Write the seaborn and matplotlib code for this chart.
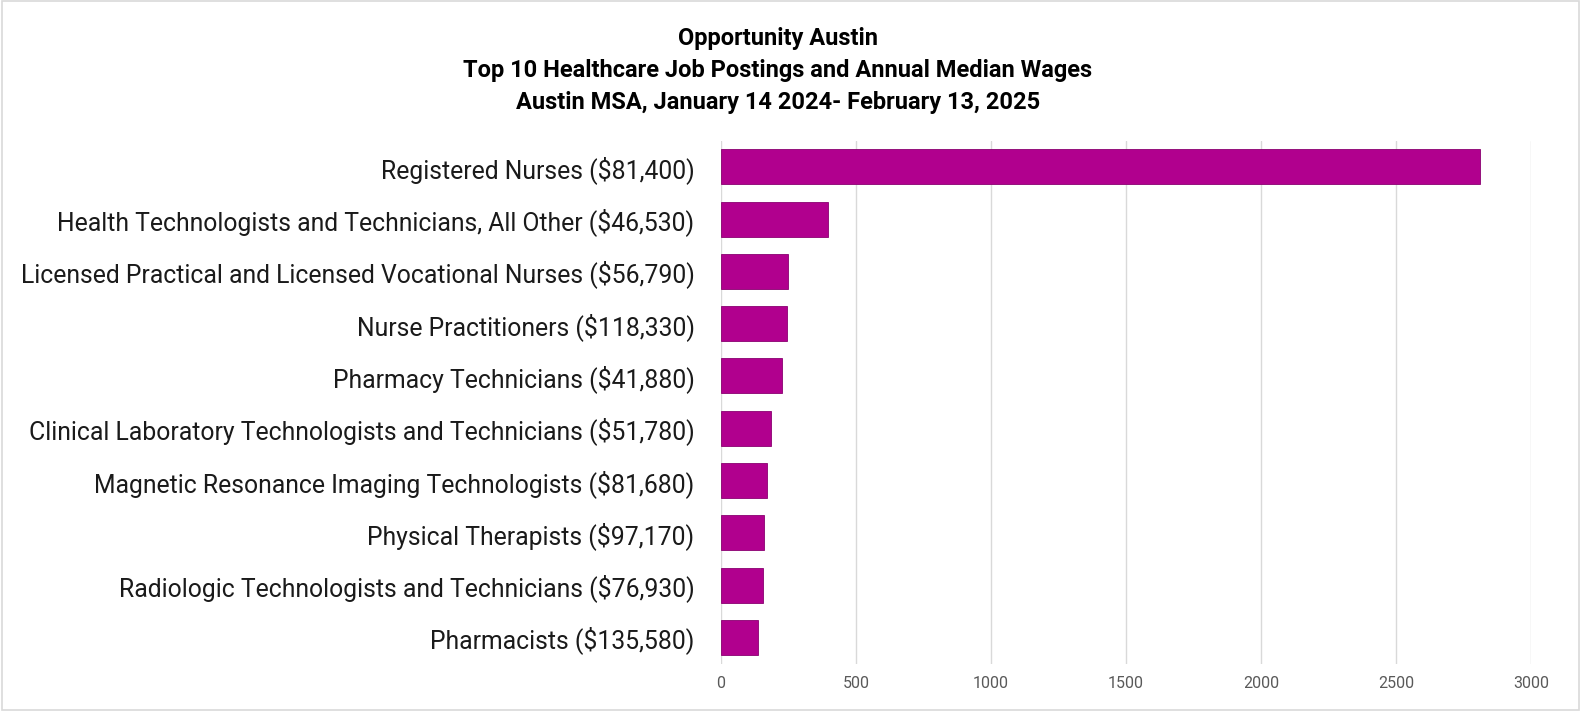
import matplotlib
matplotlib.use("Agg")
import matplotlib.pyplot as plt
import seaborn as sns
import pandas as pd
from matplotlib.patches import Rectangle

# occupations with annual median wage, and job postings count
occupations = [
    "Registered Nurses ($81,400)",
    "Health Technologists and Technicians, All Other ($46,530)",
    "Licensed Practical and Licensed Vocational Nurses ($56,790)",
    "Nurse Practitioners ($118,330)",
    "Pharmacy Technicians ($41,880)",
    "Clinical Laboratory Technologists and Technicians ($51,780)",
    "Magnetic Resonance Imaging Technologists ($81,680)",
    "Physical Therapists ($97,170)",
    "Radiologic Technologists and Technicians ($76,930)",
    "Pharmacists ($135,580)",
]
postings = [2810, 395, 249, 244, 227, 185, 170, 160, 154, 138]
x_ticks = [0, 500, 1000, 1500, 2000, 2500, 3000]

title = (
    "Opportunity Austin\n"
    "Top 10 Healthcare Job Postings and Annual Median Wages\n"
    "Austin MSA, January 14 2024- February 13, 2025"
)

sns.set_style("white")
plt.rcParams["font.family"] = ["Roboto", "DejaVu Sans"]

df = pd.DataFrame({"occupation": occupations, "postings": postings})

fig = plt.figure(figsize=(15.81, 7.11), dpi=100)
ax = fig.add_axes([0.456, 0.0667, 0.5125, 0.7355])

sns.barplot(
    data=df,
    y="occupation",
    x="postings",
    orient="h",
    color="#B1008E",
    saturation=1,
    width=0.67,
    edgecolor="#8A0070",
    linewidth=0.6,
    ax=ax,
)

ax.set_xlim(0, 3000)
ax.set_xticks(x_ticks)
ax.set_xticklabels([str(t) for t in x_ticks], fontsize=11.5, color="#595959")
ax.tick_params(axis="x", length=0, pad=9)
ax.tick_params(axis="y", length=0, pad=19, labelsize=17.8, labelcolor="#1a1a1a")
ax.set_xlabel("")
ax.set_ylabel("")
ax.grid(axis="x", color="#D9D9D9", linewidth=1)
ax.set_axisbelow(True)
for s in ax.spines.values():
    s.set_visible(False)

fig.text(0.492, 0.901, title, ha="center", va="center", fontsize=17,
         fontweight="bold", linespacing=1.5, color="black")

# light frame round the chart
fig.patches.append(Rectangle((0.0015, 0.002), 0.997, 0.996, transform=fig.transFigure,
                             fill=False, edgecolor="#D9D9D9", linewidth=1.2))

fig.savefig("out.png", dpi=100)
